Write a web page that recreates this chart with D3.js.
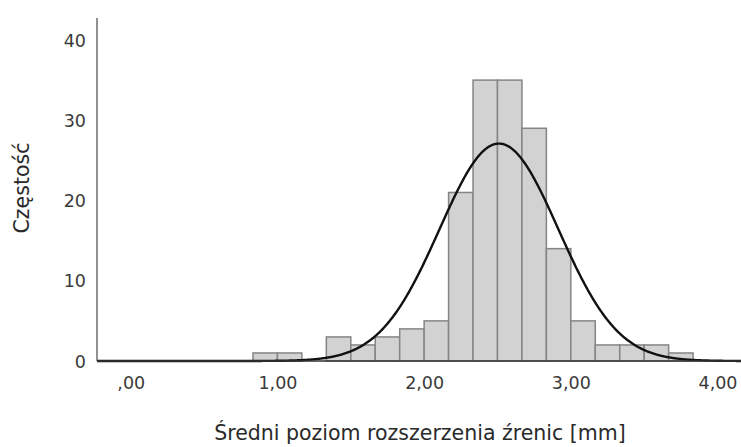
<!DOCTYPE html>
<html>
<head>
<meta charset="utf-8">
<script src="https://cdn.jsdelivr.net/npm/d3@7"></script>
<style>
  html, body { margin: 0; padding: 0; background: #fff; }
  svg { display: block; }
  text { font-family: "DejaVu Sans", Verdana, sans-serif; }
</style>
</head>
<body>
<svg id="chart" width="741" height="447"></svg>
<script>
// Histogram bins (width 1/6 mm), given by their start in mm
const binStarts = [5/6, 6/6, 7/6, 8/6, 9/6, 10/6, 11/6, 12/6, 13/6, 14/6, 15/6, 16/6, 17/6, 18/6, 19/6, 20/6, 21/6, 22/6];
const binWidth = 1 / 6;
const counts = [1, 1, 0, 3, 2, 3, 4, 5, 21, 35, 35, 29, 14, 5, 2, 2, 2, 1];

// Fitted normal curve parameters
const curveMean = 2.51;
const curveSD = 0.405;

// Axis ticks and titles
const xTicks = [0, 1, 2, 3, 4];
const yTicks = [0, 10, 20, 30, 40];
const xTitle = "Średni poziom rozszerzenia źrenic [mm]";
const yTitle = "Częstość";

const svg = d3.select("#chart");

const plot = { left: 97, right: 741, top: 18, bottom: 361 };

const x = d3.scaleLinear().domain([-0.23, 4.16]).range([plot.left, plot.right]);
const y = d3.scaleLinear().domain([0, 42.74]).range([plot.bottom, plot.top]);

const total = d3.sum(counts);
const data = binStarts.map((s, i) => ({ x0: s, x1: s + binWidth, n: counts[i] }));

// Bars
svg.append("g")
  .selectAll("rect")
  .data(data.filter(d => d.n > 0))
  .join("rect")
  .attr("x", d => x(d.x0))
  .attr("y", d => y(d.n))
  .attr("width", d => x(d.x1) - x(d.x0))
  .attr("height", d => y(0) - y(d.n))
  .attr("fill", "#d2d2d2")
  .attr("stroke", "#858585")
  .attr("stroke-width", 1.5);

// Normal curve scaled to the histogram
const pdf = v => Math.exp(-0.5 * Math.pow((v - curveMean) / curveSD, 2)) / (curveSD * Math.sqrt(2 * Math.PI));
const curvePts = d3.range(x.domain()[0], x.domain()[1] + 0.001, 0.005).map(v => [v, total * binWidth * pdf(v)]);

svg.append("path")
  .datum(curvePts)
  .attr("fill", "none")
  .attr("stroke", "#111")
  .attr("stroke-width", 2.4)
  .attr("d", d3.line().x(d => x(d[0])).y(d => y(d[1])));

// Axis lines
svg.append("line")
  .attr("x1", plot.left).attr("x2", plot.left)
  .attr("y1", plot.top).attr("y2", plot.bottom)
  .attr("stroke", "#555").attr("stroke-width", 1.3);
svg.append("line")
  .attr("x1", plot.left).attr("x2", plot.right)
  .attr("y1", plot.bottom).attr("y2", plot.bottom)
  .attr("stroke", "#333").attr("stroke-width", 1.6);

// Tick labels
const fmtX = v => {
  const s = d3.format(".2f")(v).replace(".", ",");
  return s.startsWith("0,") ? s.slice(1) : s;
};

const xAxis = svg.append("g")
  .attr("transform", `translate(0,${plot.bottom})`)
  .call(d3.axisBottom(x).tickValues(xTicks).tickSize(0).tickPadding(0).tickFormat(fmtX));
xAxis.select(".domain").remove();
xAxis.selectAll("text")
  .attr("y", 28).attr("dy", null)
  .attr("fill", "#3a3a3a")
  .style("font-size", "17.5px");

const yAxis = svg.append("g")
  .attr("transform", `translate(${plot.left},0)`)
  .call(d3.axisLeft(y).tickValues(yTicks).tickSize(0).tickPadding(11).tickFormat(d3.format("d")));
yAxis.select(".domain").remove();
yAxis.selectAll("text")
  .attr("dy", "0.35em")
  .attr("fill", "#3a3a3a")
  .style("font-size", "17.5px");

// Axis titles
svg.append("text")
  .attr("x", 420)
  .attr("y", 440)
  .attr("text-anchor", "middle")
  .attr("fill", "#2a2a2a")
  .style("font-size", "20.5px")
  .text(xTitle);

svg.append("text")
  .attr("transform", "translate(29,188) rotate(-90)")
  .attr("text-anchor", "middle")
  .attr("fill", "#2a2a2a")
  .style("font-size", "20.5px")
  .text(yTitle);
</script>
</body>
</html>
